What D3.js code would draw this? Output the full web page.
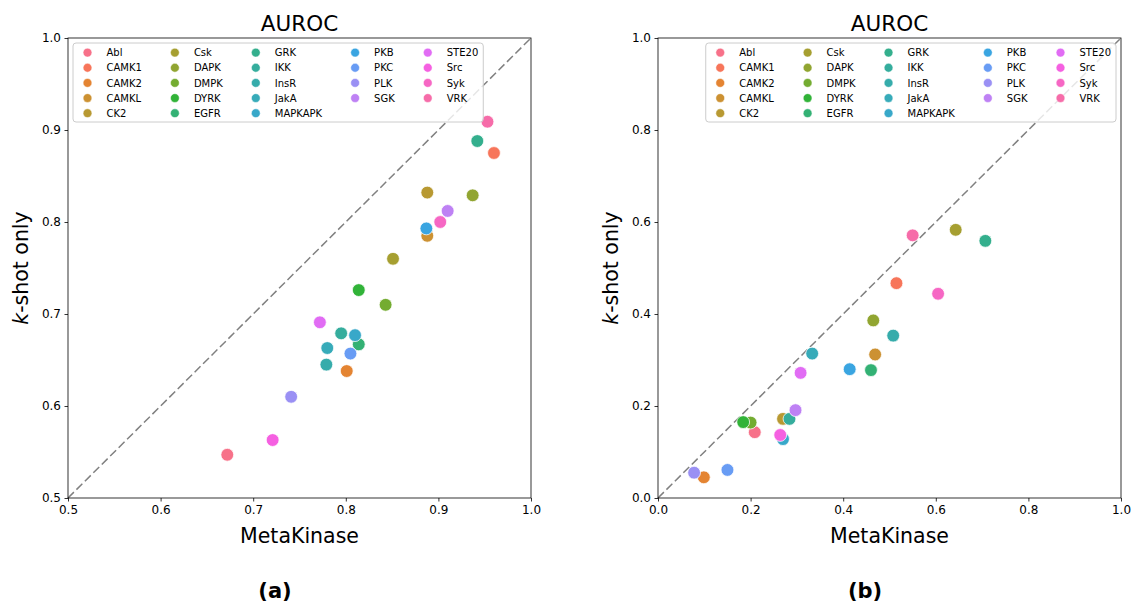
<!DOCTYPE html>
<html>
<head>
<meta charset="utf-8">
<script src="https://cdn.jsdelivr.net/npm/d3@7/dist/d3.min.js"></script>
<style>
    body { margin: 0; background: #fff; }
    svg text { font-family: "DejaVu Sans", sans-serif; fill: #000; }
</style>
</head>
<body>
<div id="chart"></div>
<script>
// kinase groups, in legend / hue order
const kinases = ["Abl", "CAMK1", "CAMK2", "CAMKL", "CK2", "Csk", "DAPK", "DMPK", "DYRK", "EGFR",
    "GRK", "IKK", "InsR", "JakA", "MAPKAPK", "PKB", "PKC", "PLK", "SGK", "STE20", "Src", "Syk", "VRK"];

// (a) AUROC
const metaA  = [0.672, 0.960, 0.801, 0.888, 0.888, 0.851, 0.937, 0.843, 0.814, 0.814,
    0.942, 0.795, 0.779, 0.780, 0.810, 0.887, 0.805, 0.741, 0.910, 0.772, 0.721, 0.902, 0.953];
const kshotA = [0.547, 0.875, 0.638, 0.785, 0.832, 0.760, 0.829, 0.710, 0.726, 0.667,
    0.888, 0.679, 0.645, 0.663, 0.677, 0.793, 0.657, 0.610, 0.812, 0.691, 0.563, 0.800, 0.909];

// (b) AUROC
const metaB  = [0.209, 0.515, 0.099, 0.469, 0.270, 0.643, 0.465, 0.200, 0.184, 0.460,
    0.707, 0.284, 0.508, 0.333, 0.270, 0.414, 0.150, 0.078, 0.297, 0.308, 0.264, 0.605, 0.550];
const kshotB = [0.143, 0.467, 0.045, 0.312, 0.172, 0.583, 0.386, 0.164, 0.165, 0.278,
    0.559, 0.172, 0.353, 0.314, 0.128, 0.280, 0.061, 0.055, 0.191, 0.272, 0.137, 0.444, 0.571];

const ticksA = [0.5, 0.6, 0.7, 0.8, 0.9, 1.0];
const ticksB = [0.0, 0.2, 0.4, 0.6, 0.8, 1.0];

// seaborn husl_palette(n, h=.01, s=.9, l=.65)
function huslPalette(n) {
    const m = [[3.2406, -1.5372, -0.4986], [-0.9689, 1.8758, 0.0415], [0.0557, -0.2040, 1.0570]];
    const refU = 0.19784, refV = 0.46834;

    function maxChroma(L, H) {
        let hrad = H * Math.PI / 180;
        let sinH = Math.sin(hrad), cosH = Math.cos(hrad);
        let sub1 = Math.pow(L + 16, 3) / 1560896;
        let sub2 = sub1 > 0.008856 ? sub1 : L / 903.3;
        let result = Infinity;
        m.forEach(([m1, m2, m3]) => {
            let top = (0.99915 * m1 + 1.05122 * m2 + 1.14460 * m3) * sub2;
            let rbottom = 0.86330 * m3 - 0.17266 * m2;
            let lbottom = 0.12949 * m3 - 0.38848 * m1;
            let bottom = (rbottom * sinH + lbottom * cosH) * sub2;
            [0, 1].forEach(t => {
                let C = L * (top - 1.05122 * t) / (bottom + 0.17266 * sinH * t);
                if (C > 0 && C < result) result = C;
            });
        });
        return result;
    }

    function toRgb(H, S, L) {
        let C = maxChroma(L, H) / 100 * S;
        let hrad = H * Math.PI / 180;
        let U = Math.cos(hrad) * C, V = Math.sin(hrad) * C;
        let t = (L + 16) / 116;
        let varY = Math.pow(t, 3) > 0.008856 ? Math.pow(t, 3) : (116 * t - 16) / 903.3;
        let varU = U / (13 * L) + refU;
        let varV = V / (13 * L) + refV;
        let Y = varY;
        let X = 0 - (9 * Y * varU) / ((varU - 4) * varV - varU * varV);
        let Z = (9 * Y - 15 * varV * Y - varV * X) / (3 * varV);
        let rgb = m.map(r => r[0] * X + r[1] * Y + r[2] * Z)
            .map(c => c <= 0.0031308 ? 12.92 * c : 1.055 * Math.pow(c, 1 / 2.4) - 0.055)
            .map(c => Math.max(0, Math.min(1, c)) * 255);
        return d3.rgb(rgb[0], rgb[1], rgb[2]).formatHex();
    }

    return d3.range(n).map(i => toRgb(((i / n + 0.01) % 1) * 359, 0.9 * 99, 0.65 * 99));
}

const colors = huslPalette(kinases.length);

class ScatterPanel {
    constructor(svg, config) {
        this.svg = svg;
        this.config = config;

        this.initVis();
    }

    initVis() {
        let vis = this;
        let cfg = vis.config;

        vis.width = 463;
        vis.height = 460;

        vis.g = vis.svg.append("g")
            .attr("transform", "translate(" + cfg.left + "," + cfg.top + ")");

        vis.x = d3.scaleLinear().domain(cfg.domain).range([0, vis.width]);
        vis.y = d3.scaleLinear().domain(cfg.domain).range([vis.height, 0]);

        vis.data = kinases.map((k, i) => ({name: k, meta: cfg.meta[i], kshot: cfg.kshot[i], color: colors[i]}));

        // diagonal reference
        vis.g.append("line")
            .attr("x1", vis.x(cfg.domain[0]))
            .attr("y1", vis.y(cfg.domain[0]))
            .attr("x2", vis.x(cfg.domain[1]))
            .attr("y2", vis.y(cfg.domain[1]))
            .attr("stroke", "#808080")
            .attr("stroke-width", 1.5)
            .attr("stroke-dasharray", "8.3,3.6");

        vis.g.selectAll(".dot")
            .data(vis.data)
            .enter()
            .append("circle")
            .attr("class", "dot")
            .attr("cx", d => vis.x(d.meta))
            .attr("cy", d => vis.y(d.kshot))
            .attr("r", 6.4)
            .attr("fill", d => d.color)
            .attr("stroke", "#fff")
            .attr("stroke-width", 0.75);

        vis.drawAxes();
        vis.drawLegend();
    }

    drawAxes() {
        let vis = this;
        let cfg = vis.config;

        let xAxis = d3.axisBottom(vis.x).tickValues(cfg.ticks).tickSize(3.5).tickPadding(3.5).tickFormat(d3.format(".1f"));
        let yAxis = d3.axisLeft(vis.y).tickValues(cfg.ticks).tickSize(3.5).tickPadding(3.5).tickFormat(d3.format(".1f"));

        let gx = vis.g.append("g")
            .attr("transform", `translate(0, ${vis.height})`)
            .call(xAxis);
        let gy = vis.g.append("g").call(yAxis);

        [gx, gy].forEach(a => {
            a.select(".domain").remove();
            a.selectAll("line").attr("stroke", "#000").attr("stroke-width", 0.8);
            a.selectAll("text").attr("font-size", "12px").attr("font-family", "DejaVu Sans").attr("fill", "#000");
        });

        vis.g.append("rect")
            .attr("width", vis.width)
            .attr("height", vis.height)
            .attr("fill", "none")
            .attr("stroke", "#000")
            .attr("stroke-width", 0.8);

        vis.g.append("text")
            .attr("x", vis.width / 2)
            .attr("y", -7.5)
            .attr("text-anchor", "middle")
            .attr("font-size", "21.5px")
            .text("AUROC");

        vis.g.append("text")
            .attr("x", vis.width / 2)
            .attr("y", vis.height + 45)
            .attr("text-anchor", "middle")
            .attr("font-size", "20.5px")
            .text("MetaKinase");

        let yl = vis.g.append("text")
            .attr("transform", `translate(-40, ${vis.height / 2}) rotate(-90)`)
            .attr("text-anchor", "middle")
            .attr("font-size", "20.5px");
        yl.append("tspan").attr("font-style", "italic").text("k");
        yl.append("tspan").text("-shot only");

        vis.svg.append("text")
            .attr("x", cfg.left + 207)
            .attr("y", 598)
            .attr("text-anchor", "middle")
            .attr("font-family", "DejaVu Serif")
            .attr("font-weight", "bold")
            .attr("font-size", "21px")
            .text(cfg.caption);
    }

    drawLegend() {
        let vis = this;
        let cfg = vis.config;

        let nCols = 5;
        let rowY = i => 9.6 + i * 15.15;
        let fontSize = 10;

        // matplotlib splits entries: first (n % ncol) columns get one extra
        let n = vis.data.length;
        let base = Math.floor(n / nCols), extra = n % nCols;
        let columns = [];
        let start = 0;
        for (let c = 0; c < nCols; c++) {
            let size = base + (c < extra ? 1 : 0);
            columns.push(vis.data.slice(start, start + size));
            start += size;
        }

        let leg = vis.g.append("g");
        let box = leg.append("rect")
            .attr("y", 5)
            .attr("height", 79)
            .attr("rx", 3)
            .attr("fill", "#fff")
            .attr("fill-opacity", 0.8)
            .attr("stroke", "#cccccc")
            .attr("stroke-width", 1);

        let items = leg.append("g").attr("transform", "translate(0, 5)");

        let colX = 14.5;
        let end = 0;
        columns.forEach(members => {
            let maxW = 0;
            members.forEach((d, r) => {
                items.append("circle")
                    .attr("cx", colX)
                    .attr("cy", rowY(r))
                    .attr("r", 4.4)
                    .attr("fill", d.color)
                    .attr("stroke", "#fff")
                    .attr("stroke-width", 0.5);
                let t = items.append("text")
                    .attr("x", colX + 19)
                    .attr("y", rowY(r))
                    .attr("dy", "0.36em")
                    .attr("font-size", fontSize + "px")
                    .text(d.name);
                maxW = Math.max(maxW, t.node().getComputedTextLength());
            });
            end = colX + 19 + maxW;
            colX = end + 33;
        });
        let legendW = end + 5;

        let lx = cfg.legendLoc === "left" ? 5 : vis.width - 5 - legendW;
        leg.attr("transform", `translate(${lx}, 0)`);
        box.attr("width", legendW);
    }
}

let svg = d3.select("#chart").append("svg")
    .attr("width", 1133)
    .attr("height", 604);

new ScatterPanel(svg, {left: 68, top: 38, domain: [0.5, 1.0], ticks: ticksA,
    meta: metaA, kshot: kshotA, legendLoc: "left", caption: "(a)"});
new ScatterPanel(svg, {left: 658, top: 38, domain: [0.0, 1.0], ticks: ticksB,
    meta: metaB, kshot: kshotB, legendLoc: "right", caption: "(b)"});
</script>
</body>
</html>
